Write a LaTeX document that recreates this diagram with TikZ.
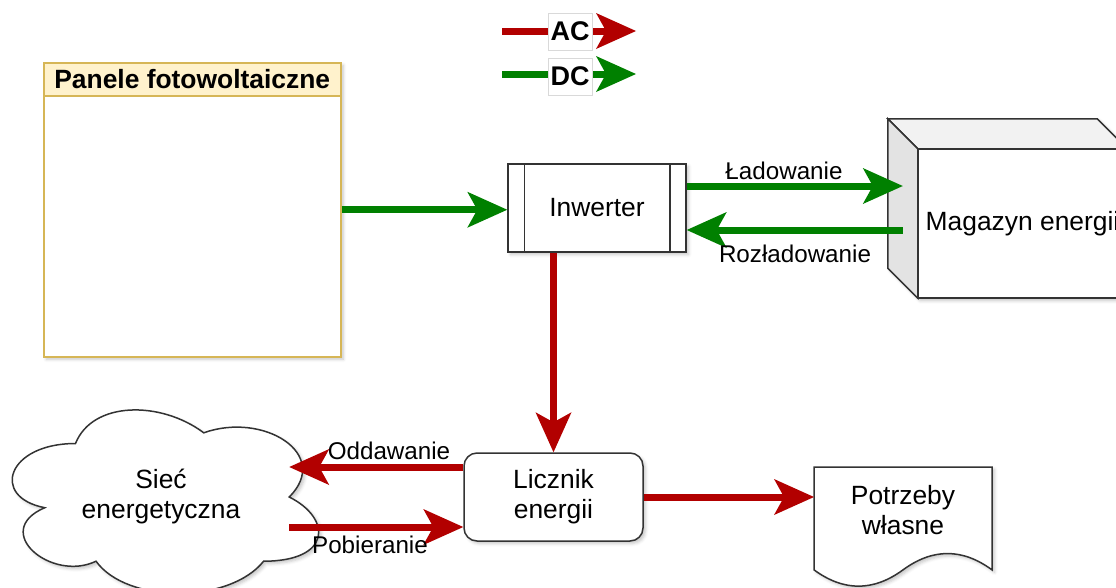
\documentclass[tikz,border=0pt]{standalone}
\usepackage{fontspec}
\setmainfont{Liberation Sans}
\usetikzlibrary{arrows.meta,calc,shadows.blur}
\definecolor{acred}{HTML}{B20000}
\definecolor{dcgreen}{HTML}{008000}
\definecolor{panelfill}{HTML}{FFF2CC}
\definecolor{paneldraw}{HTML}{D6B656}
\definecolor{edgegray}{HTML}{333333}
\definecolor{leftface}{HTML}{E3E3E3}
\definecolor{topface}{HTML}{F2F2F2}
\begin{document}
\begin{tikzpicture}[x=1pt,y=-1pt,
  font=\fontsize{26.4}{30}\selectfont,
  lbl/.style={font=\fontsize{24.2}{28}\selectfont, inner sep=0pt},
  txt/.style={align=center, inner sep=0pt},
  shp/.style={draw=edgegray, line width=1.5pt},
  shd/.style={blur shadow={shadow xshift=2.5pt, shadow yshift=-2.5pt, shadow opacity=22, shadow blur radius=3pt}},
  tip/.style={-{Stealth[length=40pt,width=36pt,inset=10pt,line width=0pt]}},
  ac/.style={draw=acred, line width=7pt, tip},
  dc/.style={draw=dcgreen, line width=7pt, tip},
  legbox/.style={fill=white, draw=black!15, line width=1pt, minimum width=44pt, minimum height=37pt, inner sep=0pt, font=\fontsize{27}{30}\selectfont\bfseries},
]
\useasboundingbox (0,0) rectangle (1116,587);
\clip (0,0) rectangle (1116,587);

% ---------- legend ----------
\coordinate (acS) at (502,31);
\coordinate (acE) at (636,31);
\coordinate (dcS) at (502,74);
\coordinate (dcE) at (636,74);
\draw[ac] (acS) -- (acE);
\draw[dc] (dcS) -- (dcE);
\node[legbox] (acl) at (570,31.5) {AC};
\node[legbox] (dcl) at (570,76.5) {DC};

% ---------- panels ----------
\node[draw=paneldraw, fill=white, line width=1.5pt, minimum width=297pt, minimum height=294pt, anchor=north west, inner sep=0pt, shd] (pv) at (43,62) {};
\node[draw=paneldraw, fill=panelfill, line width=1.5pt, minimum width=297pt, minimum height=33pt, anchor=north west, inner sep=0pt, font=\fontsize{26.4}{30}\selectfont\bfseries] (pvh) at (43,62) {Panele fotowoltaiczne};

% ---------- inverter ----------
\node[shp, fill=white, minimum width=178pt, minimum height=88pt, inner sep=0pt, shd] (inv) at (597,208) {Inwerter};
\draw[shp] ([xshift=17pt]inv.north west) -- ([xshift=17pt]inv.south west);
\draw[shp] ([xshift=-17pt]inv.north east) -- ([xshift=-17pt]inv.south east);

% ---------- energy storage (cube) ----------
\node[minimum width=209pt, minimum height=149pt, inner sep=0pt] (mag) at (1022.5,223.5) {};
\filldraw[shp, fill=white, shd] ($(mag.north west)+(-30,-30)$) -- ($(mag.north east)+(-30,-30)$) -- (mag.north east) -- (mag.south east) -- (mag.south west) -- ($(mag.south west)+(-30,-30)$) -- cycle;
\filldraw[shp, fill=topface] ($(mag.north west)+(-30,-30)$) -- ($(mag.north east)+(-30,-30)$) -- (mag.north east) -- (mag.north west) -- cycle;
\filldraw[shp, fill=leftface] ($(mag.north west)+(-30,-30)$) -- (mag.north west) -- (mag.south west) -- ($(mag.south west)+(-30,-30)$) -- cycle;
\draw[shp] (mag.north west) rectangle (mag.south east);
\node[txt] (magt) at (mag.center) {Magazyn energii};

% ---------- meter ----------
\node[shp, fill=white, rounded corners=13pt, minimum width=179pt, minimum height=88pt, inner sep=0pt, align=center, shd] (lic) at (553.5,497) {Licznik\\energii};

% ---------- grid (cloud) ----------
\begin{scope}[shift={(-10pt,-390pt)}, x=342pt, y=-214pt]
\filldraw[shp, fill=white, shd] (0.25,0.25) .. controls (0.05,0.25) and (0,0.5) .. (0.16,0.55)
  .. controls (0,0.66) and (0.18,0.9) .. (0.31,0.8)
  .. controls (0.4,1) and (0.7,1) .. (0.8,0.8)
  .. controls (1,0.8) and (1,0.6) .. (0.875,0.5)
  .. controls (1,0.3) and (0.8,0.1) .. (0.625,0.2)
  .. controls (0.5,0.05) and (0.3,0.05) .. (0.25,0.25) -- cycle;
\coordinate (cloudR) at (0.875,0.5);
\end{scope}
\node[txt] (grid) at (161,497) {Sieć\\energetyczna};

% ---------- own consumption (document) ----------
\filldraw[shp, fill=white, shd] (814,467) -- (992,467) -- (992,569.85)
  .. controls (962.3,548.1) and (932.7,548.1) .. (903,569.85)
  .. controls (873.3,591.6) and (843.7,591.6) .. (814,569.85) -- cycle;
\coordinate (potL) at (814,497);
\node[txt] (pot) at (903,510) {Potrzeby\\własne};

% ---------- connectors ----------
\draw[dc] (pv.east) -- (pv.east -| inv.west);

\coordinate (magL) at ($(mag.west)+(-15,0)$);
\coordinate (ladS) at ($(inv.east)+(0,-22)$);
\coordinate (ladE) at (ladS -| magL);
\draw[dc] (ladS) -- (ladE);
\coordinate (rozE) at ($(inv.east)+(0,22)$);
\coordinate (rozS) at (rozE -| magL);
\draw[dc] (rozS) -- (rozE);

\draw[ac] (lic.north |- inv.south) -- (lic.north);

\coordinate (oddS) at ($(lic.west)+(0,-30)$);
\coordinate (oddE) at (oddS -| cloudR);
\draw[ac] (oddS) -- (oddE);
\coordinate (pobE) at ($(lic.west)+(0,30)$);
\coordinate (pobS) at (pobE -| cloudR);
\draw[ac] (pobS) -- (pobE);

\draw[ac] (lic.east) -- (lic.east -| potL);

% ---------- connector labels ----------
\node[lbl] (lLad) at (784,171) {Ładowanie};
\node[lbl] (lRoz) at (795,254) {Rozładowanie};
\node[lbl] (lOdd) at (389,451) {Oddawanie};
\node[lbl] (lPob) at (370,545) {Pobieranie};
\end{tikzpicture}
\end{document}
